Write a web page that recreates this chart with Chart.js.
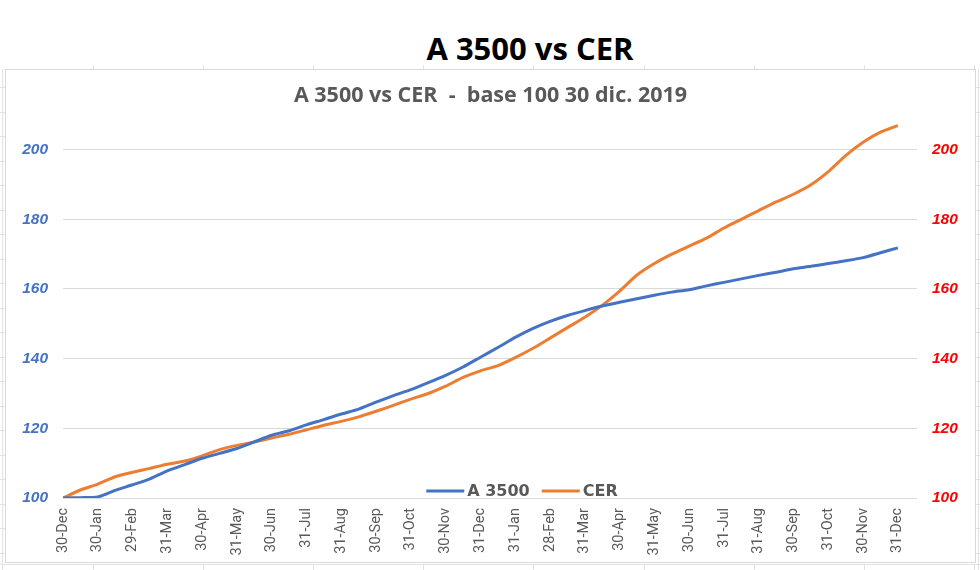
<!DOCTYPE html>
<html>
<head>
<meta charset="utf-8">
<script src="https://cdn.jsdelivr.net/npm/chart.js@4.4.1/dist/chart.umd.min.js"></script>
<style>
  html, body { margin: 0; padding: 0; background: #ffffff; }
  body { width: 980px; height: 570px; position: relative; overflow: hidden; }
  #mainTitle {
    position: absolute; left: 0; top: 28px; width: 1060px; text-align: center;
    font-family: "Open Sans", sans-serif; font-weight: 700; font-size: 31px; color: #000000;
    line-height: 40px;
  }
  #box {
    position: absolute; left: 5px; top: 69px; width: 971px; height: 494px;
    box-sizing: border-box; border: 1px solid #d9d9d9; background: #ffffff;
  }
  #chart { position: absolute; left: 0; top: 0; }
  .cell { position: absolute; background: #e2e2e2; }
</style>
</head>
<body>
<div id="mainTitle">A 3500 vs CER</div>
<div id="box"><canvas id="chart" width="969" height="492"></canvas></div>
<script>
// ---- data ----
const tickLabels = ['30-Dec','30-Jan','29-Feb','31-Mar','30-Apr','31-May','30-Jun','31-Jul','31-Aug','30-Sep','31-Oct','30-Nov','31-Dec','31-Jan','28-Feb','31-Mar','30-Apr','31-May','30-Jun','31-Jul','31-Aug','30-Sep','31-Oct','30-Nov','31-Dec'];
// sample positions in months since 30-Dec-2019 (month-end and mid-month readings)
const monthIndex = [0,0.5,1,1.5,2,2.5,3,3.5,4,4.5,5,5.5,6,6.5,7,7.5,8,8.5,9,9.5,10,10.5,11,11.5,12,12.5,13,13.5,14,14.5,15,15.5,16,16.5,17,17.5,18,18.5,19,19.5,20,20.5,21,21.5,22,22.5,23,23.5,24];
const a3500 = [100,100.1,100.3,102.2,103.8,105.5,107.8,109.6,111.4,112.8,114.2,116.1,118.0,119.3,121.0,122.5,124.1,125.5,127.5,129.4,131.1,133.1,135.2,137.6,140.4,143.2,146.1,148.6,150.7,152.4,153.8,155.1,156.2,157.2,158.2,159.1,159.8,160.9,161.9,162.9,163.9,164.8,165.8,166.5,167.3,168.1,169.0,170.4,171.8];
const cer = [100,102.3,104.0,106.1,107.4,108.5,109.7,110.6,112.1,113.9,115.1,116.1,117.2,118.3,119.6,120.9,122.0,123.3,124.9,126.6,128.4,130.0,132.1,134.6,136.5,138.0,140.3,142.9,145.9,148.9,151.9,155.3,159.4,164.0,167.3,170.0,172.3,174.6,177.5,180.0,182.5,185.0,187.2,189.9,193.7,198.3,202.1,205.0,206.9];
const seriesNames = ['A 3500', 'CER'];
const chartSubtitle = 'A 3500 vs CER  -  base 100 30 dic. 2019';

// faint spreadsheet cell lines around the chart (decoration)
(function () {
  const add = (l, t, w, h) => { const d = document.createElement('div'); d.className = 'cell';
    d.style.left = l + 'px'; d.style.top = t + 'px'; d.style.width = w + 'px'; d.style.height = h + 'px';
    document.body.appendChild(d); };
  add(2, 69, 1, 501); add(978, 69, 1, 501); add(0, 564, 980, 1);
  for (let x = 92.5; x < 980; x += 110.2) { add(Math.round(x), 65, 1, 4); add(Math.round(x), 564, 1, 6); }
  for (let y = 87; y < 570; y += 24.5) { add(0, Math.round(y), 5, 1); add(976, Math.round(y), 4, 1); }
})();

const toPoints = (ys) => ys.map((y, i) => ({ x: monthIndex[i], y: y }));

// custom in-plot legend (like Excel's)
const plotLegend = {
  id: 'plotLegend',
  afterDatasetsDraw(chart) {
    const ctx = chart.ctx, ca = chart.chartArea;
    ctx.save();
    ctx.font = 'bold 16px "DejaVu Sans", sans-serif';
    ctx.textBaseline = 'middle';
    const lineLen = 38, gapText = 3, gapItem = 12;
    const items = chart.data.datasets.map(d => ({ label: d.label, color: d.borderColor, w: ctx.measureText(d.label).width }));
    let total = 0;
    items.forEach((it, i) => { total += lineLen + gapText + it.w + (i < items.length - 1 ? gapItem : 0); });
    let x = (ca.left + ca.right) / 2 + 32 - total / 2;
    const y = ca.bottom - 7;
    items.forEach(it => {
      ctx.strokeStyle = it.color; ctx.lineWidth = 3;
      ctx.beginPath(); ctx.moveTo(x, y); ctx.lineTo(x + lineLen, y); ctx.stroke();
      x += lineLen + gapText;
      ctx.fillStyle = '#595959';
      ctx.fillText(it.label, x, y + 1);
      x += it.w + gapItem;
    });
    ctx.restore();
  }
};

const yTickFont = { family: '"Liberation Sans", Arial, sans-serif', size: 15.5, weight: 'bold', style: 'italic' };

new Chart(document.getElementById('chart'), {
  type: 'line',
  data: {
    datasets: [
      { label: seriesNames[0], data: toPoints(a3500), borderColor: '#4472C4', backgroundColor: '#4472C4', borderWidth: 3, pointRadius: 0, tension: 0.2, yAxisID: 'y' },
      { label: seriesNames[1], data: toPoints(cer), borderColor: '#ED7D31', backgroundColor: '#ED7D31', borderWidth: 3, pointRadius: 0, tension: 0.2, yAxisID: 'y2' }
    ]
  },
  options: {
    responsive: false,
    animation: false,
    layout: { padding: 0 },
    plugins: {
      legend: { display: false },
      tooltip: { enabled: false },
      title: {
        display: true, text: chartSubtitle, color: '#595959',
        font: { family: '"Open Sans", sans-serif', size: 21.5, weight: 'bold' },
        padding: { top: 13, bottom: 6 }
      }
    },
    scales: {
      x: {
        type: 'linear', min: 0, max: 24.55,
        afterBuildTicks: (s) => { s.ticks = tickLabels.map((_, i) => ({ value: i })); },
        ticks: {
          autoSkip: false, minRotation: 90, maxRotation: 90, padding: 10,
          color: '#595959', font: { family: 'Roboto, sans-serif', size: 14.5 },
          callback: (v) => tickLabels[v]
        },
        grid: { display: false, drawTicks: false },
        border: { display: false },
        afterFit: (s) => { s.height = 64; }
      },
      y: {
        position: 'left', min: 100, max: 210,
        ticks: { stepSize: 20, includeBounds: false, color: '#4472C4', font: yTickFont, padding: 15 },
        grid: { color: '#d9d9d9', lineWidth: 1, drawTicks: false },
        border: { display: false },
        afterFit: (s) => { s.width = 57; }
      },
      y2: {
        position: 'right', min: 100, max: 210,
        ticks: { stepSize: 20, includeBounds: false, color: '#FF0000', font: yTickFont, padding: 15 },
        grid: { display: false, drawTicks: false },
        border: { display: false },
        afterFit: (s) => { s.width = 58; }
      }
    }
  },
  plugins: [plotLegend]
});
</script>
</body>
</html>
